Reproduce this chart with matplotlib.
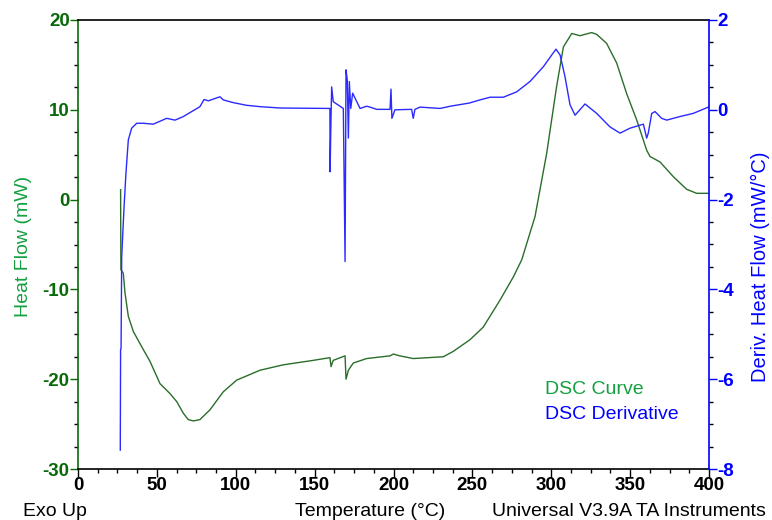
import matplotlib
matplotlib.use("Agg")
import matplotlib.pyplot as plt
from matplotlib.ticker import MultipleLocator

plt.rcParams['font.family'] = ['Liberation Sans', 'DejaVu Sans']
plt.rcParams['axes.unicode_minus'] = False

# Heat flow (mW) vs temperature (°C)
hf_temp = [27.0, 27.2, 28.7, 29.8, 31.9, 35.1, 41.4, 45.6, 52.0, 58.3, 62.6, 66.8, 69.9, 73.1, 77.3,
           83.7, 92.1, 100.6, 115.4, 130.1, 149.2, 159.7, 160.4, 161.8, 169.3, 169.9,
           171.4, 174.5, 183.0, 197.8, 199.9, 204.0, 212.5, 231.6, 237.9, 248.5,
           256.9, 267.5, 276.0, 281.3, 289.7, 297.1, 303.4, 307.7, 313.0, 318.2,
           325.6, 328.8, 335.1, 341.5, 347.8, 354.1, 360.5, 362.6, 368.9, 377.4,
           385.8, 392.2, 399.4]
hf_value = [1.1, -7.8, -8.2, -10.4, -13.0, -14.7, -16.7, -18.0, -20.5, -21.6, -22.5, -23.8, -24.5, -24.65, -24.5,
            -23.4, -21.4, -20.1, -19.0, -18.4, -17.9, -17.6, -18.6, -17.9, -17.4, -20.0,
            -19.0, -18.2, -17.7, -17.4, -17.2, -17.4, -17.7, -17.5, -16.9, -15.6,
            -14.2, -11.2, -8.6, -6.7, -1.9, 5.15, 12.6, 17.0, 18.5, 18.25,
            18.6, 18.4, 17.4, 15.2, 11.8, 8.9, 5.5, 4.8, 4.2, 2.55,
            1.15, 0.7, 0.7]

# Derivative heat flow (mW/°C) vs temperature (°C)
dr_temp = [26.8, 27.0, 27.3, 27.7, 29.2, 30.4, 31.9, 34.0, 37.2, 41.4, 47.7, 56.2,
           61.5, 66.8, 77.3, 79.9, 82.6, 90.0, 92.1, 98.4, 106.9, 115.4, 128.0,
           159.7, 159.8, 160.4, 160.8, 161.8, 168.2, 169.3, 169.9, 170.7, 171.4,
           172.0, 172.9, 174.1, 178.8, 183.0, 185.1, 189.3, 197.8, 198.4, 199.0,
           200.9, 211.5, 212.5, 213.6, 216.8, 229.5, 236.0, 248.0, 254.8, 261.2, 269.6,
           278.1, 286.5, 295.0, 300.3, 303.0, 305.6, 308.7, 311.9, 315.1, 321.4,
           328.8, 337.2, 343.6, 349.9, 358.4, 360.5, 361.5, 363.7, 365.8, 370.0,
           373.2, 381.6, 390.0, 399.6]
dr_value = [-7.58, -5.35, -5.3, -3.27, -2.16, -1.41, -0.67, -0.41, -0.30, -0.30, -0.32, -0.19,
            -0.23, -0.15, 0.07, 0.23, 0.20, 0.29, 0.22, 0.16, 0.10, 0.07, 0.04,
            0.03, -1.38, -0.15, 0.51, 0.18, 0.03, -3.38, 0.89, 0.66, -0.63,
            0.63, 0.03, 0.37, 0.03, 0.08, 0.06, 0.01, 0.01, 0.46, -0.19,
            0.0, 0.01, -0.19, 0.01, 0.06, 0.03, 0.08, 0.15, 0.22, 0.28, 0.28,
            0.40, 0.63, 0.96, 1.22, 1.35, 1.22, 0.74, 0.11, -0.12, 0.13,
            -0.08, -0.38, -0.52, -0.41, -0.32, -0.63, -0.52, -0.08, -0.04, -0.19,
            -0.23, -0.15, -0.08, 0.06]

GREEN_LINE = '#2a6e2a'
GREEN_TICK = '#0a6a0a'
GREEN_LABEL = '#14a040'
BLUE = '#0000ff'
BLUE_LINE = '#2a2aff'

W, H = 772, 520
fig = plt.figure(figsize=(W/100, H/100), dpi=100)
ax = fig.add_axes([78/W, 51/H, (709-78)/W, (469-20)/H])
ax2 = ax.twinx()

ax.plot(hf_temp, hf_value, color=GREEN_LINE, lw=1.0)
ax2.plot(dr_temp, dr_value, color=BLUE_LINE, lw=1.0)

ax.set_xlim(0, 400)
ax.set_ylim(-30, 20)
ax2.set_ylim(-8, 2)

ax.xaxis.set_major_locator(MultipleLocator(50))
ax.xaxis.set_minor_locator(MultipleLocator(12.5))
ax.yaxis.set_major_locator(MultipleLocator(10))
ax.yaxis.set_minor_locator(MultipleLocator(2.5))
ax2.yaxis.set_major_locator(MultipleLocator(2))
ax2.yaxis.set_minor_locator(MultipleLocator(0.5))

for a in (ax, ax2):
    a.tick_params(which='major', length=6, width=1)
    a.tick_params(which='minor', length=3, width=1)

ax.tick_params(axis='x', labelsize=13.5, pad=0)
ax.tick_params(axis='y', colors=GREEN_TICK, labelsize=13.5, pad=0)
ax2.tick_params(axis='y', colors=BLUE, labelsize=13.5, pad=0)
for lab in ax.get_xticklabels() + ax.get_yticklabels() + ax2.get_yticklabels():
    lab.set_fontweight('bold')

ax.spines['left'].set_color(GREEN_TICK)
ax.spines['right'].set_visible(False)
ax2.spines['right'].set_color(BLUE)
ax2.spines['left'].set_visible(False)
ax2.spines['top'].set_visible(False)
ax2.spines['bottom'].set_visible(False)
for sp in ax.spines.values():
    sp.set_linewidth(1.2)
ax2.spines['right'].set_linewidth(1.2)

FS = 14
fig.text(24/W, 1 - 246/H, 'Heat Flow (mW)', color=GREEN_LABEL, fontsize=FS,
         rotation=90, ha='center', va='center')
fig.text(760/W, 1 - 267/H, 'Deriv. Heat Flow (mW/°C)', color=BLUE, fontsize=14.5,
         rotation=90, ha='center', va='center')

fig.text(23/W, 1 - 516/H, 'Exo Up', fontsize=FS, ha='left', va='baseline')
fig.text(370/W, 1 - 516/H, 'Temperature (°C)', fontsize=FS, ha='center', va='baseline')
fig.text(766/W, 1 - 516/H, 'Universal V3.9A TA Instruments', fontsize=FS, ha='right', va='baseline')

fig.text(545/W, 1 - 394/H, 'DSC Curve', color=GREEN_LABEL, fontsize=FS, ha='left', va='baseline')
fig.text(545/W, 1 - 419/H, 'DSC Derivative', color=BLUE, fontsize=FS, ha='left', va='baseline')

fig.savefig('out.png', dpi=100)
